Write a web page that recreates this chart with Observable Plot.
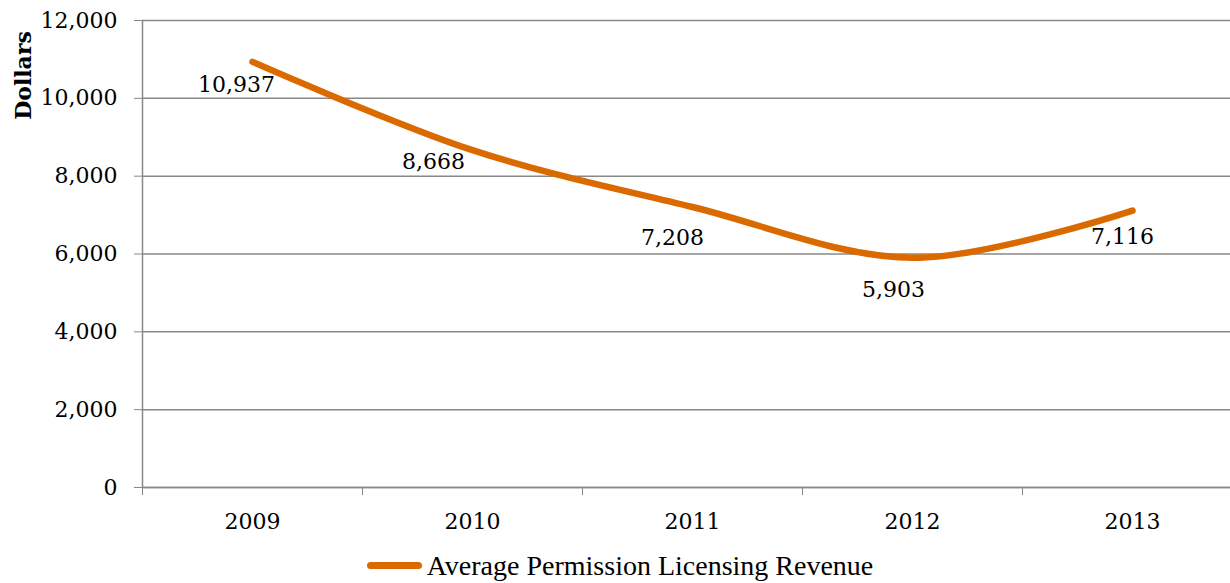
<!DOCTYPE html>
<html>
<head>
<meta charset="utf-8">
<script src="https://cdn.jsdelivr.net/npm/d3@7"></script>
<script src="https://cdn.jsdelivr.net/npm/@observablehq/plot@0.6"></script>
<style>
  html, body { margin: 0; padding: 0; background: #fff; overflow: hidden; }
  #chart svg { display: block; overflow: hidden; }
  #legend { display: flex; justify-content: center; align-items: center; height: 35px;
            font-family: "Liberation Serif", serif; font-size: 28px; line-height: 30px; color: #000; padding-left: 10px; }
  #legend .swatch { width: 55px; height: 7px; border-radius: 4px; background: #DA6A00; margin-right: 5px; }
</style>
</head>
<body>
<div id="chart"></div>
<div id="legend"><span class="swatch"></span><span>Average Permission Licensing Revenue</span></div>
<script>
const years = [2009, 2010, 2011, 2012, 2013];
const revenue = [10937, 8668, 7208, 5903, 7116];
const labels = ["10,937", "8,668", "7,208", "5,903", "7,116"];
const yTicks = [0, 2000, 4000, 6000, 8000, 10000, 12000];
const seriesName = "Average Permission Licensing Revenue";

const data = years.map((y, i) => ({year: y, value: revenue[i], label: labels[i]}));
const boundaries = years.map(y => y - 0.5).concat([years[years.length - 1] + 0.5]);

// label offsets (pixels) relative to each point, as in the reference
const offsets = [[-16, 23], [-39, 12], [-20, 31], [-19, 32], [-10, 26]];

const font = "'DejaVu Serif', serif";
const grid = "#888888";

const chart = Plot.plot({
  width: 1230,
  height: 548,
  marginLeft: 142,
  marginRight: -12,
  marginTop: 20,
  marginBottom: 61,
  style: {fontFamily: font, fontSize: "22px", color: "#000", background: "#fff"},
  x: {domain: [years[0] - 0.5, years[years.length - 1] + 0.5]},
  y: {domain: [0, 12000]},
  marks: [
    Plot.gridY(yTicks, {stroke: grid, strokeOpacity: 1, strokeWidth: 1.5}),
    Plot.ruleY([0], {stroke: grid, strokeWidth: 1.5}),
    Plot.ruleX([years[0] - 0.5], {stroke: grid, strokeWidth: 1.5}),
    Plot.axisY({ticks: yTicks, tickSize: 8, tickPadding: 17, stroke: grid, tickFormat: d3.format(","), label: null, fontSize: 22}),
    Plot.axisX({ticks: boundaries, tickSize: 8, stroke: grid, tickFormat: () => "", label: null}),
    Plot.axisX({ticks: years, tickSize: 0, tickPadding: 26, tickFormat: d => String(d), label: null, fontSize: 22}),
    Plot.line(data, {x: "year", y: "value", curve: "catmull-rom", stroke: "#DA6A00", strokeWidth: 6.5, strokeLinecap: "round"}),
    ...data.map((d, i) => Plot.text([d], {x: "year", y: "value", text: "label", dx: offsets[i][0], dy: offsets[i][1], fontSize: 22, fill: "#000"})),
    Plot.text(["Dollars"], {frameAnchor: "top-left", dx: -119, dy: 55, rotate: -90, textAnchor: "middle", lineAnchor: "middle", fontWeight: "bold", fontSize: 22, fill: "#000"})
  ]
});
document.getElementById("chart").appendChild(chart);
</script>
</body>
</html>
